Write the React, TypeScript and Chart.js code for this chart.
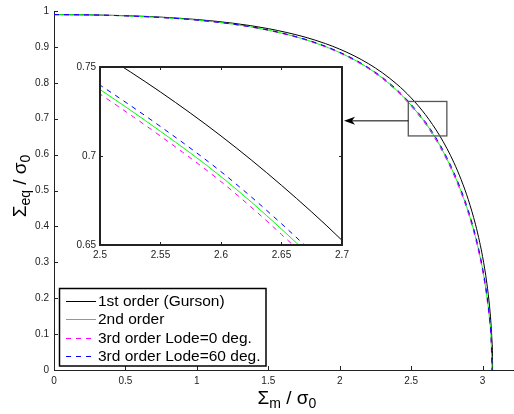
import React, { useEffect, useRef } from 'react';
import { Chart, registerables } from 'chart.js';

Chart.register(...registerables);

const FONT = "'Liberation Sans', Arial, Helvetica, sans-serif";

// ---- data (Σm/σ0 sample points and Σeq/σ0) ----
const SIGMA_M = [0, 0.25, 0.5, 0.75, 1.0, 1.25, 1.5, 1.75, 1.9, 2.0, 2.1, 2.2, 2.3, 2.4, 2.45, 2.5, 2.55, 2.6, 2.65, 2.7, 2.75, 2.8, 2.85, 2.9, 2.95, 2.98, 3.0, 3.03, 3.05, 3.06];

const GURSON_TAIL_X = [3.065, 3.07, 3.0701];
const GURSON_Y = [0.99, 0.98929, 0.98702, 0.98288, 0.97624, 0.96611, 0.95088, 0.92808, 0.9092, 0.89373, 0.87539, 0.85358, 0.82752, 0.79615, 0.77806, 0.75806, 0.73594, 0.71127, 0.68352, 0.65262, 0.61742, 0.57715, 0.53019, 0.47455, 0.40608, 0.35539, 0.31594, 0.24162, 0.17234, 0.12288, 0.08775, 0.01414, 0];

const SECOND_TAIL_X = [3.066];
const SECOND_Y = [0.99, 0.98914, 0.98651, 0.98186, 0.9747, 0.96351, 0.94666, 0.92159, 0.90091, 0.88417, 0.86447, 0.84119, 0.81289, 0.77901, 0.75919, 0.73733, 0.71386, 0.68841, 0.65894, 0.62602, 0.58839, 0.54599, 0.49709, 0.44068, 0.37135, 0.31984, 0.28075, 0.20586, 0.13675, 0.08426, 0];

const LODE0_TAIL_X = [3.0655];
const LODE0_Y = [0.99, 0.98912, 0.98645, 0.98174, 0.97452, 0.9632, 0.94615, 0.92081, 0.89991, 0.88301, 0.86315, 0.83969, 0.81111, 0.77692, 0.7569, 0.7348, 0.71117, 0.68561, 0.65593, 0.62275, 0.58481, 0.54213, 0.49297, 0.43644, 0.36696, 0.31531, 0.27622, 0.20115, 0.13183, 0.07836, 0];

const LODE60_TAIL_X = [3.0665];
const LODE60_Y = [0.99, 0.98916, 0.98657, 0.98198, 0.97489, 0.96383, 0.94717, 0.92237, 0.90191, 0.88532, 0.86579, 0.84269, 0.81465, 0.78108, 0.76148, 0.73985, 0.71655, 0.69119, 0.66194, 0.62927, 0.59195, 0.54982, 0.50118, 0.44488, 0.37569, 0.32432, 0.2852, 0.21048, 0.14149, 0.08978, 0];

const SERIES_LABELS = ['1st order (Gurson)', '2nd order', '3rd order Lode=0 deg.', '3rd order Lode=60 deg.'];

const MAIN_X_TICKS = [0, 0.5, 1, 1.5, 2, 2.5, 3];
const MAIN_Y_TICKS = [0, 0.1, 0.2, 0.3, 0.4, 0.5, 0.6, 0.7, 0.8, 0.9, 1];
const INSET_X_TICKS = [2.5, 2.55, 2.6, 2.65, 2.7];
const INSET_Y_TICKS = [0.65, 0.7, 0.75];

// zoom rectangle and arrow, in data units of the main axes
const ZOOM_BOX_X = [2.48, 2.75];
const ZOOM_BOX_Y = [0.652, 0.748];
const ARROW_X = [2.48, 2.03];
const ARROW_Y = [0.694, 0.694];

const AXIS_COLOR = '#222';

function pts(xs: number[], ys: number[]) {
  return xs.map((x, i) => ({ x, y: ys[i] }));
}

function makeDatasets() {
  return [
    { label: SERIES_LABELS[0], data: pts([...SIGMA_M, ...GURSON_TAIL_X], GURSON_Y), borderColor: '#000000', borderWidth: 1, order: 3 },
    { label: SERIES_LABELS[1], data: pts([...SIGMA_M, ...SECOND_TAIL_X], SECOND_Y), borderColor: '#00ff00', borderWidth: 1, order: 2 },
    { label: SERIES_LABELS[2], data: pts([...SIGMA_M, ...LODE0_TAIL_X], LODE0_Y), borderColor: '#ff00ff', borderWidth: 1, borderDash: [5, 5], order: 1 },
    { label: SERIES_LABELS[3], data: pts([...SIGMA_M, ...LODE60_TAIL_X], LODE60_Y), borderColor: '#0000ff', borderWidth: 1, borderDash: [5, 5], order: 0 },
  ].map((d) => ({ ...d, pointRadius: 0, fill: false, cubicInterpolationMode: 'monotone' as const }));
}

function inwardTicks(chart: any, len: number, allSides: boolean) {
  const { ctx, chartArea } = chart;
  const xs = chart.scales.x;
  const ys = chart.scales.y;
  ctx.save();
  ctx.strokeStyle = AXIS_COLOR;
  ctx.lineWidth = 1;
  ctx.beginPath();
  xs.ticks.forEach((t: any) => {
    const px = Math.round(xs.getPixelForValue(t.value)) + 0.5;
    ctx.moveTo(px, chartArea.bottom);
    ctx.lineTo(px, chartArea.bottom - len);
    if (allSides) {
      ctx.moveTo(px, chartArea.top);
      ctx.lineTo(px, chartArea.top + len);
    }
  });
  ys.ticks.forEach((t: any) => {
    const py = Math.round(ys.getPixelForValue(t.value)) + 0.5;
    ctx.moveTo(chartArea.left, py);
    ctx.lineTo(chartArea.left + len, py);
    if (allSides) {
      ctx.moveTo(chartArea.right, py);
      ctx.lineTo(chartArea.right - len, py);
    }
  });
  ctx.stroke();
  ctx.restore();
}

function drawLabel(ctx: CanvasRenderingContext2D, cx: number, cy: number, rotate: boolean, parts: { t: string; size: number; dy: number }[]) {
  ctx.save();
  ctx.translate(cx, cy);
  if (rotate) ctx.rotate(-Math.PI / 2);
  ctx.fillStyle = '#000';
  ctx.textBaseline = 'alphabetic';
  ctx.textAlign = 'left';
  let total = 0;
  parts.forEach((p) => {
    ctx.font = `${p.size}px ${FONT}`;
    total += ctx.measureText(p.t).width;
  });
  let x = -total / 2;
  parts.forEach((p) => {
    ctx.font = `${p.size}px ${FONT}`;
    ctx.fillText(p.t, x, p.dy);
    x += ctx.measureText(p.t).width;
  });
  ctx.restore();
}

const mainDecor = {
  id: 'mainDecor',
  afterDraw(chart: any) {
    const { ctx } = chart;
    const xs = chart.scales.x;
    const ys = chart.scales.y;
    inwardTicks(chart, 4, false);

    // zoom rectangle
    const x0 = xs.getPixelForValue(ZOOM_BOX_X[0]);
    const x1 = xs.getPixelForValue(ZOOM_BOX_X[1]);
    const y0 = ys.getPixelForValue(ZOOM_BOX_Y[1]);
    const y1 = ys.getPixelForValue(ZOOM_BOX_Y[0]);
    ctx.save();
    ctx.strokeStyle = '#555';
    ctx.lineWidth = 1.3;
    ctx.strokeRect(x0, y0, x1 - x0, y1 - y0);

    // arrow
    const ax0 = xs.getPixelForValue(ARROW_X[0]);
    const ay0 = ys.getPixelForValue(ARROW_Y[0]);
    const ax1 = xs.getPixelForValue(ARROW_X[1]);
    const ay1 = ys.getPixelForValue(ARROW_Y[1]);
    ctx.strokeStyle = '#000';
    ctx.lineWidth = 1;
    ctx.beginPath();
    ctx.moveTo(ax0, ay0);
    ctx.lineTo(ax1 + 6, ay1);
    ctx.stroke();
    ctx.fillStyle = '#000';
    ctx.beginPath();
    ctx.moveTo(ax1, ay1);
    ctx.lineTo(ax1 + 11, ay1 - 4);
    ctx.lineTo(ax1 + 8, ay1);
    ctx.lineTo(ax1 + 11, ay1 + 4);
    ctx.closePath();
    ctx.fill();
    ctx.restore();

    // legend
    const ds = chart.data.datasets;
    ctx.save();
    ctx.fillStyle = '#fff';
    ctx.fillRect(59.5, 288.5, 206.5, 77.5);
    ctx.strokeStyle = '#000';
    ctx.lineWidth = 1.5;
    ctx.strokeRect(59.5, 288.5, 206.5, 77.5);
    ctx.font = `15.5px ${FONT}`;
    ctx.textBaseline = 'middle';
    ctx.textAlign = 'left';
    ds.forEach((d: any, i: number) => {
      const y = Math.round(300.5 + i * 18.5) + 0.5;
      ctx.strokeStyle = d.borderColor;
      ctx.lineWidth = 1;
      ctx.setLineDash(d.borderDash || []);
      ctx.beginPath();
      ctx.moveTo(66, y);
      ctx.lineTo(96, y);
      ctx.stroke();
      ctx.setLineDash([]);
      ctx.fillStyle = '#000';
      ctx.fillText(d.label, 98, y + 0.5);
    });
    ctx.restore();

    // axis titles
    drawLabel(ctx, 287, 404, false, [
      { t: 'Σ', size: 19, dy: 0 },
      { t: 'm', size: 14, dy: 4 },
      { t: ' / σ', size: 19, dy: 0 },
      { t: '0', size: 14, dy: 4 },
    ]);
    drawLabel(ctx, 26, 186, true, [
      { t: 'Σ', size: 19, dy: 0 },
      { t: 'eq', size: 14, dy: 4 },
      { t: ' / σ', size: 19, dy: 0 },
      { t: '0', size: 14, dy: 4 },
    ]);
  },
};

const insetDecor = {
  id: 'insetDecor',
  beforeDatasetsDraw(chart: any) {
    const { ctx, chartArea } = chart;
    ctx.save();
    ctx.fillStyle = '#fff';
    ctx.fillRect(chartArea.left, chartArea.top, chartArea.right - chartArea.left, chartArea.bottom - chartArea.top);
    ctx.restore();
  },
  afterDraw(chart: any) {
    const { ctx, chartArea } = chart;
    inwardTicks(chart, 3, true);
    ctx.save();
    ctx.strokeStyle = '#222';
    ctx.lineWidth = 2;
    ctx.strokeRect(chartArea.left, chartArea.top, chartArea.right - chartArea.left, chartArea.bottom - chartArea.top);
    ctx.restore();
  },
};

function axisOpts(min: number, max: number, ticks: number[], size: { width?: number; height?: number }, padding: number) {
  return {
    type: 'linear' as const,
    min,
    max,
    afterBuildTicks: (s: any) => {
      s.ticks = ticks.map((v) => ({ value: v }));
    },
    afterFit: (s: any) => {
      if (size.width !== undefined) s.width = size.width;
      if (size.height !== undefined) s.height = size.height;
    },
    grid: { display: false, drawTicks: false },
    border: { display: false },
    ticks: {
      padding,
      autoSkip: false,
      maxRotation: 0,
      color: AXIS_COLOR,
      font: { family: FONT, size: 10 },
      callback: (v: any) => String(v),
    },
  };
}

export default function App() {
  const mainRef = useRef<HTMLCanvasElement>(null);
  const insetRef = useRef<HTMLCanvasElement>(null);

  useEffect(() => {
    Chart.defaults.font.family = FONT;
    const mainX: any = axisOpts(0, 3.22, MAIN_X_TICKS, { height: 44 }, 5);
    mainX.border = { display: true, color: AXIS_COLOR, width: 1 };
    const mainY: any = axisOpts(0, 1, MAIN_Y_TICKS, { width: 54 }, 5);
    mainY.border = { display: true, color: AXIS_COLOR, width: 1 };

    const main = new Chart(mainRef.current!, {
      type: 'line',
      data: { datasets: makeDatasets() as any },
      options: {
        responsive: false,
        animation: false,
        devicePixelRatio: 1,
        layout: { padding: { top: 7, right: 0, bottom: 0, left: 0 } },
        plugins: { legend: { display: false }, tooltip: { enabled: false } },
        scales: { x: mainX, y: mainY },
      },
      plugins: [mainDecor],
    });

    const insetDs = makeDatasets().map((d) => ({ ...d, clip: 0 }));
    const inset = new Chart(insetRef.current!, {
      type: 'line',
      data: { datasets: insetDs as any },
      options: {
        responsive: false,
        animation: false,
        devicePixelRatio: 1,
        layout: { padding: { top: 12, right: 18, bottom: 0, left: 0 } },
        plugins: { legend: { display: false }, tooltip: { enabled: false } },
        scales: {
          x: axisOpts(2.5, 2.7, INSET_X_TICKS, { height: 25 }, 4) as any,
          y: axisOpts(0.65, 0.75, INSET_Y_TICKS, { width: 40 }, 4) as any,
        },
      },
      plugins: [insetDecor],
    });

    return () => {
      main.destroy();
      inset.destroy();
    };
  }, []);

  return (
    <div style={{ position: 'absolute', left: 0, top: 0, width: 514, height: 414, background: '#fff' }}>
      <canvas ref={mainRef} width={514} height={414} style={{ position: 'absolute', left: 0, top: 0, width: 514, height: 414 }} />
      <canvas ref={insetRef} width={300} height={215} style={{ position: 'absolute', left: 60, top: 55, width: 300, height: 215 }} />
    </div>
  );
}
